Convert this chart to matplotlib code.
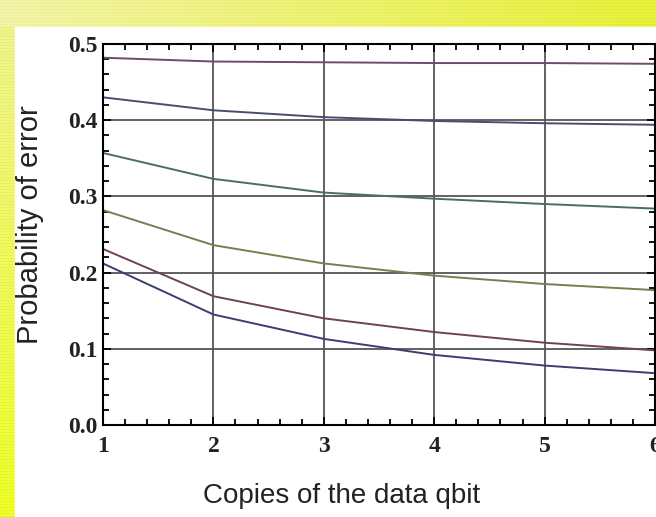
import numpy as np
import matplotlib
matplotlib.use("Agg")
import matplotlib.pyplot as plt
from matplotlib.ticker import MultipleLocator, FormatStrFormatter

# copies of the data qbit and error probability, one curve per setting
copies = [1, 2, 3, 4, 5, 6]
p_top = [0.482, 0.477, 0.476, 0.475, 0.475, 0.474]
p_second = [0.430, 0.413, 0.404, 0.399, 0.396, 0.394]
p_third = [0.357, 0.323, 0.305, 0.297, 0.290, 0.284]
p_fourth = [0.282, 0.236, 0.212, 0.196, 0.185, 0.177]
p_fifth = [0.231, 0.169, 0.140, 0.122, 0.108, 0.098]
p_bottom = [0.212, 0.145, 0.113, 0.092, 0.078, 0.068]

series = [p_bottom, p_fifth, p_fourth, p_third, p_second, p_top]
colors = ["#3d3d70", "#70405a", "#807a50", "#4a7058", "#464e70", "#704a6a"]

W, H = 656, 517
fig = plt.figure(figsize=(W / 100, H / 100), dpi=100)

# background: yellow striped frame on top and left, white panel
bg = fig.add_axes([0, 0, 1, 1], zorder=-10)
bg.set_xlim(0, W); bg.set_ylim(H, 0); bg.axis("off")
top = np.linspace(0, 1, W)
rgb_l = np.array([0.96, 0.96, 0.66]); rgb_r = np.array([0.91, 0.95, 0.22])
band = rgb_l[None, :] * (1 - top[:, None]) + rgb_r[None, :] * top[:, None]
band = np.repeat(band[None, :, :], 27, axis=0)
band[::3] *= 0.97
bg.imshow(band, extent=[0, W, 27, 0], aspect="auto")
left = np.linspace(0, 1, H - 27)
rgb_t = np.array([0.95, 0.96, 0.55]); rgb_b = np.array([0.94, 1.0, 0.15])
strip = rgb_t[None, :] * (1 - left[:, None]) + rgb_b[None, :] * left[:, None]
strip = np.repeat(strip[:, None, :], 15, axis=1)
strip[::3] *= 0.96
bg.imshow(strip, extent=[0, 15, H, 27], aspect="auto")
bg.add_patch(plt.Rectangle((15, 27), W - 15, H - 27, color="white"))

ax = fig.add_axes([103 / W, 1 - 425 / H, 552 / W, 381 / H])
for vals, c in zip(series, colors):
    ax.plot(copies, vals, color=c, lw=1.4)

ax.set_xlim(1, 6)
ax.set_ylim(0, 0.5)
ax.xaxis.set_major_locator(MultipleLocator(1))
ax.xaxis.set_minor_locator(MultipleLocator(0.2))
ax.yaxis.set_major_locator(MultipleLocator(0.1))
ax.yaxis.set_minor_locator(MultipleLocator(0.02))
ax.yaxis.set_major_formatter(FormatStrFormatter("%.1f"))
ax.grid(True, which="major", color="#555555", lw=1.3)
ax.tick_params(which="both", direction="in", top=True, right=True, color="black")
ax.tick_params(which="major", length=6, width=1.3)
ax.tick_params(which="minor", length=4, width=1.3)
ax.tick_params(axis="x", pad=8)
ax.tick_params(axis="y", pad=4)
for s in ax.spines.values():
    s.set_linewidth(1.5)
for lab in ax.get_xticklabels() + ax.get_yticklabels():
    lab.set_fontfamily("Liberation Serif")
    lab.set_fontweight("bold")
    lab.set_fontsize(17)
    lab.set_color("#222222")

fig.text(342 / W, 1 - 496 / H, "Copies of the data qbit", ha="center", va="center",
         fontsize=20, family="Liberation Sans", color="#222222")
fig.text(30 / W, 1 - 225 / H, "Probability of error", ha="center", va="center",
         rotation=90, fontsize=21, family="Liberation Sans", color="#222222")

fig.savefig("out.png", dpi=100)
